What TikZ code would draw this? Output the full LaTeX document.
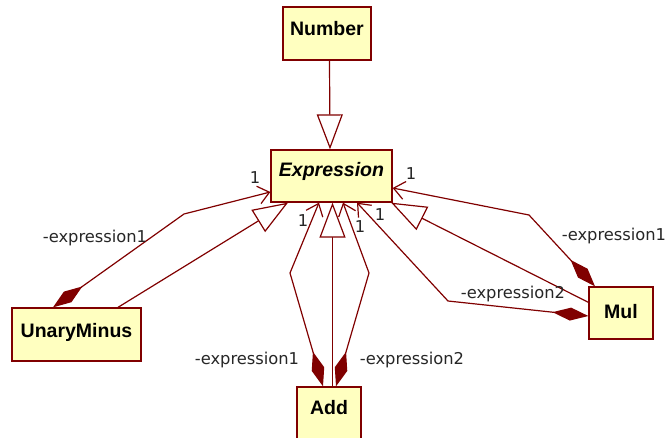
\documentclass[tikz,border=0pt]{standalone}
\usepackage{fontspec}
\setmainfont{Liberation Sans}
\newfontfamily\lblfont{DejaVu Sans}
\usetikzlibrary{arrows.meta}
\definecolor{umlred}{RGB}{128,0,0}
\definecolor{umlfill}{RGB}{255,255,192}
\tikzset{
  cls/.style={draw=umlred, fill=umlfill, line width=1.3pt, inner sep=0pt},
  clstext/.style={font=\fontsize{19.5}{21}\selectfont\bfseries, inner sep=0pt, text=black},
  lbl/.style={font=\lblfont\fontsize{16.3}{18}\selectfont, inner sep=0pt, text=black!85},
  conn/.style={draw=umlred, line width=1.2pt, line join=miter},
  gen/.style={conn, -{Triangle[open, length=35pt, width=26pt, fill=white, line width=1.2pt]}},
  comp/.style={conn, {Diamond[length=36pt, width=13pt, fill=umlred]}-{Straight Barb[length=11pt, width=18pt, line width=1.2pt]}},
}
\begin{document}
\begin{tikzpicture}[x=1pt, y=-1pt]
\useasboundingbox (0,0) rectangle (667,437);
% classes
\node[cls, minimum width=88pt, minimum height=53pt] (num) at (327,33.5) {};
\node[clstext] (numt) at ([yshift=-22pt]num.north) {Number};
\node[cls, minimum width=121pt, minimum height=52pt] (expr) at (331.5,176) {};
\node[clstext, font=\fontsize{19.5}{21}\selectfont\bfseries\itshape] (exprt) at ([yshift=-22pt]expr.north) {Expression};
\node[cls, minimum width=129pt, minimum height=53pt] (um) at (76.5,334.5) {};
\node[clstext] (umt) at ([yshift=-25pt]um.north) {UnaryMinus};
\node[cls, minimum width=64pt, minimum height=60pt] (add) at (329,417) {};
\node[clstext] (addt) at ([yshift=-21pt]add.north) {Add};
\node[cls, minimum width=64pt, minimum height=52pt] (mul) at (621,313) {};
\node[clstext] (mult) at ([yshift=-25pt]mul.north) {Mul};
% bend points
\coordinate (b1) at (184,214);
\coordinate (b2) at (290,273);
\coordinate (b3) at (369,273);
\coordinate (b4) at (448,301);
\coordinate (b5) at (529,215);
\coordinate (ga) at ([xshift=3.5pt]add.north);
\coordinate (gn) at ([xshift=2.5pt]num.south);
% generalizations
\draw[gen] (gn) -- ([xshift=0.5pt]gn |- expr.north);
\draw[gen] ([xshift=41.5pt]um.north) -- ([xshift=-43.5pt]expr.south);
\draw[gen] (ga) -- (ga |- expr.south);
\draw[gen] ([yshift=-16pt]mul.north west) -- ([xshift=-1.5pt]expr.south east);
% compositions
\draw[comp] ([xshift=-23.5pt]um.north) -- (b1) -- ([yshift=-16pt]expr.west);
\draw[comp] ([xshift=-6pt]add.north) -- (b2) -- ([xshift=-12.5pt]expr.south);
\draw[comp] ([xshift=7pt]add.north) -- (b3) -- ([xshift=11.5pt]expr.south);
\draw[comp] ([yshift=-3pt]mul.west) -- (b4) -- ([xshift=25.5pt]expr.south);
\draw[comp] ([xshift=-26pt]mul.north) -- (b5) -- ([yshift=-12pt]expr.east);
% multiplicities
\node[lbl] (m1) at (255,178) {1};
\node[lbl] (m2) at (303,221) {1};
\node[lbl] (m3) at (360,227) {1};
\node[lbl] (m4) at (380,215) {1};
\node[lbl] (m5) at (411,174) {1};
% role names
\node[lbl] (r1) at (95,238) {-expression1};
\node[lbl] (r2) at (247,360) {-expression1};
\node[lbl] (r3) at (412,360) {-expression2};
\node[lbl] (r4) at (513,294) {-expression2};
\node[lbl] (r5) at (614,236) {-expression1};
\end{tikzpicture}
\end{document}
